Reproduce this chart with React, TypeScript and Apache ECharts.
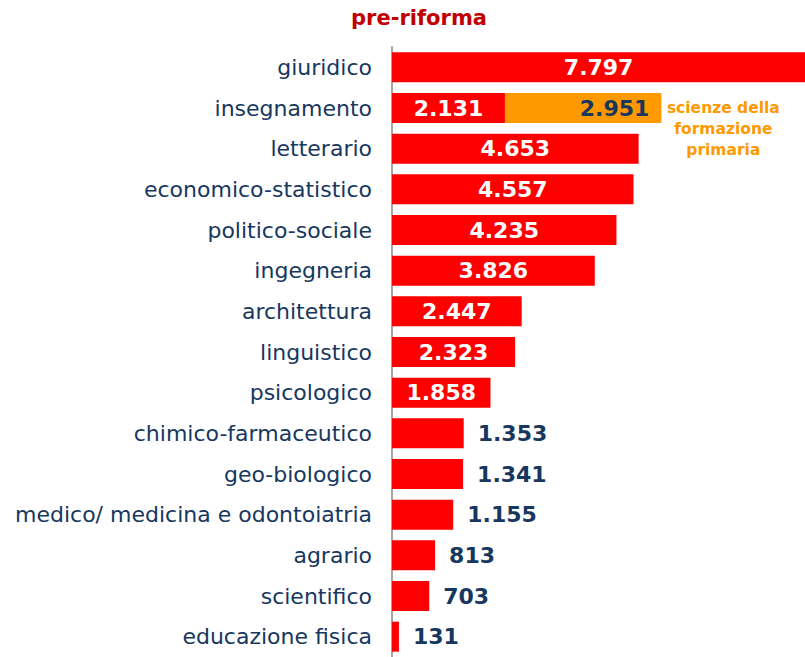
import React, { useEffect, useRef } from "react";
import * as echarts from "echarts";

const categories: string[] = [
  "giuridico",
  "insegnamento",
  "letterario",
  "economico-statistico",
  "politico-sociale",
  "ingegneria",
  "architettura",
  "linguistico",
  "psicologico",
  "chimico-farmaceutico",
  "geo-biologico",
  "medico/ medicina e odontoiatria",
  "agrario",
  "scientifico",
  "educazione fisica",
];

const mainValues: number[] = [7797, 2131, 4653, 4557, 4235, 3826, 2447, 2323, 1858, 1353, 1341, 1155, 813, 703, 131];
const sfpValues: (number | null)[] = [null, 2951, null, null, null, null, null, null, null, null, null, null, null, null, null];
const sfpNote = "scienze della\nformazione\nprimaria";
const titleText = "pre-riforma";

const RED = "#FF0000";
const ORANGE = "#FF9900";
const NAVY = "#17375E";
const FONT = "DejaVu Sans, Verdana, sans-serif";

const fmt = (n: number) => String(n).replace(/\B(?=(\d{3})+(?!\d))/g, ".");

export default function App() {
  const ref = useRef<HTMLDivElement>(null);
  useEffect(() => {
    if (!ref.current) return;
    const chart = echarts.init(ref.current, null, { renderer: "svg" });
    const outsideThreshold = 1500;
    chart.setOption({
      animation: false,
      backgroundColor: "#FFFFFF",
      title: {
        text: titleText,
        left: 414,
        textAlign: "center",
        top: 2,
        textStyle: { color: "#C00000", fontSize: 21, fontWeight: "bold", fontFamily: FONT },
      },
      grid: { left: 392, top: 47, width: 424, height: 612 },
      xAxis: {
        type: "value",
        min: 0,
        max: 8000,
        show: false,
        splitLine: { show: false },
      },
      yAxis: {
        type: "category",
        data: categories,
        inverse: true,
        axisTick: { show: false },
        axisLine: { show: true, lineStyle: { color: "#A6A6A6", width: 2 } },
        axisLabel: { margin: 20, fontSize: 22, color: NAVY, fontFamily: FONT },
      },
      series: [
        {
          type: "bar",
          stack: "a",
          barWidth: 30,
          itemStyle: { color: RED },
          data: mainValues.map((v) => ({
            value: v,
            label:
              v < outsideThreshold
                ? { show: true, position: "right", distance: 14, color: NAVY }
                : { show: true, position: "inside", color: "#FFFFFF" },
          })),
          label: {
            show: true,
            fontSize: 22,
            fontWeight: "bold",
            fontFamily: FONT,
            formatter: (p: any) => fmt(p.value),
          },
        },
        {
          type: "bar",
          stack: "a",
          barWidth: 30,
          itemStyle: { color: ORANGE },
          data: sfpValues.map((v) => (v == null ? "-" : v)),
          label: {
            show: true,
            position: "insideRight",
            distance: 12,
            color: NAVY,
            fontSize: 22,
            fontWeight: "bold",
            fontFamily: FONT,
            formatter: (p: any) => (typeof p.value === "number" ? fmt(p.value) : ""),
          },
          markPoint: {
            symbol: "circle",
            symbolSize: 0,
            data: sfpValues
              .map((v, i) =>
                v == null
                  ? null
                  : {
                      coord: [(mainValues[i] as number) + v, categories[i]],
                    }
              )
              .filter((d) => d !== null),
            label: {
              show: true,
              position: "right",
              distance: 62,
              align: "center",
              verticalAlign: "middle",
              offset: [0, 21],
              formatter: () => sfpNote,
              color: ORANGE,
              fontSize: 15.5,
              fontWeight: "bold",
              fontFamily: FONT,
              lineHeight: 21,
            },
          },
        },
      ],
    });
    return () => chart.dispose();
  }, []);
  return (
    <div
      ref={ref}
      style={{ position: "fixed", left: 0, top: 0, width: 820, height: 657 }}
    />
  );
}
